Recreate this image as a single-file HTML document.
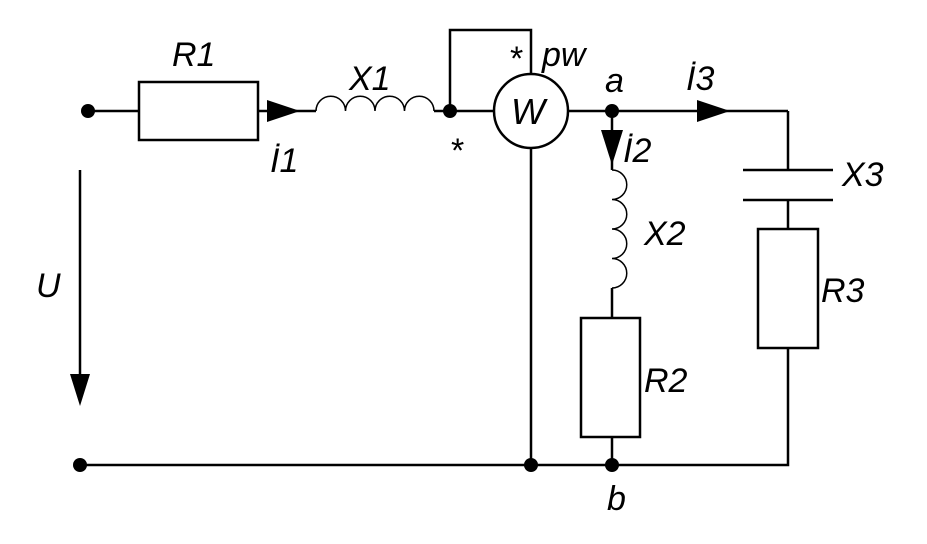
<!DOCTYPE html>
<html><head><style>
html,body{margin:0;padding:0;background:#fff;}
svg text{font-family:"Liberation Sans",sans-serif;font-style:italic;font-size:34px;fill:#000;}
</style></head><body>
<svg width="927" height="539" viewBox="0 0 927 539" xmlns="http://www.w3.org/2000/svg">
<g stroke="#000" stroke-width="2.5" fill="none">
<line x1="88" y1="111" x2="139" y2="111"/>
<rect x="139" y="82" width="119" height="58"/>
<line x1="258" y1="111" x2="316" y2="111"/>
<path d="M316 111 a14.75 14.75 0 0 1 29.5 0 a14.75 14.75 0 0 1 29.5 0 a14.75 14.75 0 0 1 29.5 0 a14.75 14.75 0 0 1 29.5 0" stroke-width="1.5"/>
<line x1="434" y1="111" x2="494" y2="111"/>
<polyline points="450,111 450,30 531,30 531,74"/>
<circle cx="531" cy="111" r="37"/>
<line x1="568" y1="111" x2="788" y2="111"/>
<polyline points="788,111 788,170"/>
<line x1="743" y1="170" x2="833" y2="170"/>
<line x1="743" y1="200" x2="833" y2="200"/>
<line x1="788" y1="200" x2="788" y2="229"/>
<rect x="758" y="229" width="60" height="119"/>
<polyline points="788,348 788,465 80,465"/>
<line x1="531" y1="148" x2="531" y2="465"/>
<line x1="612" y1="111" x2="612" y2="170"/>
<path d="M612 170 a14.75 14.75 0 0 1 0 29.5 a14.75 14.75 0 0 1 0 29.5 a14.75 14.75 0 0 1 0 29.5 a14.75 14.75 0 0 1 0 29.5" stroke-width="1.5"/>
<line x1="612" y1="288" x2="612" y2="318"/>
<rect x="581" y="318" width="59" height="119"/>
<line x1="612" y1="437" x2="612" y2="465"/>
<line x1="80" y1="170" x2="80" y2="380"/>
</g>
<g fill="#000">
<circle cx="88" cy="111" r="7"/>
<circle cx="450" cy="111" r="7"/>
<circle cx="612" cy="111" r="7"/>
<circle cx="80" cy="465" r="7"/>
<circle cx="531" cy="465" r="7"/>
<circle cx="612" cy="465" r="7"/>
<polygon points="267,100 300,111 267,122"/>
<polygon points="697,100 730,111 697,122"/>
<polygon points="601,130 612,165 623,130"/>
<polygon points="70,374 80,406 90,374"/>
</g>
<text x="172" y="66">R1</text>
<text x="349" y="90">X1</text>
<text x="270" y="172">İ1</text>
<text x="451" y="162" style="font-style:normal;font-size:34px">*</text>
<text x="510" y="70" style="font-style:normal;font-size:34px">*</text>
<text x="542" y="66">pw</text>
<text x="511" y="124" style="font-size:36px">W</text>
<text x="605" y="92">a</text>
<text x="686" y="90">İ3</text>
<text x="623" y="162">İ2</text>
<text x="842" y="186">X3</text>
<text x="644" y="245">X2</text>
<text x="821" y="302">R3</text>
<text x="644" y="392">R2</text>
<text x="607" y="510">b</text>
<text x="36" y="297">U</text>
</svg>
</body></html>
